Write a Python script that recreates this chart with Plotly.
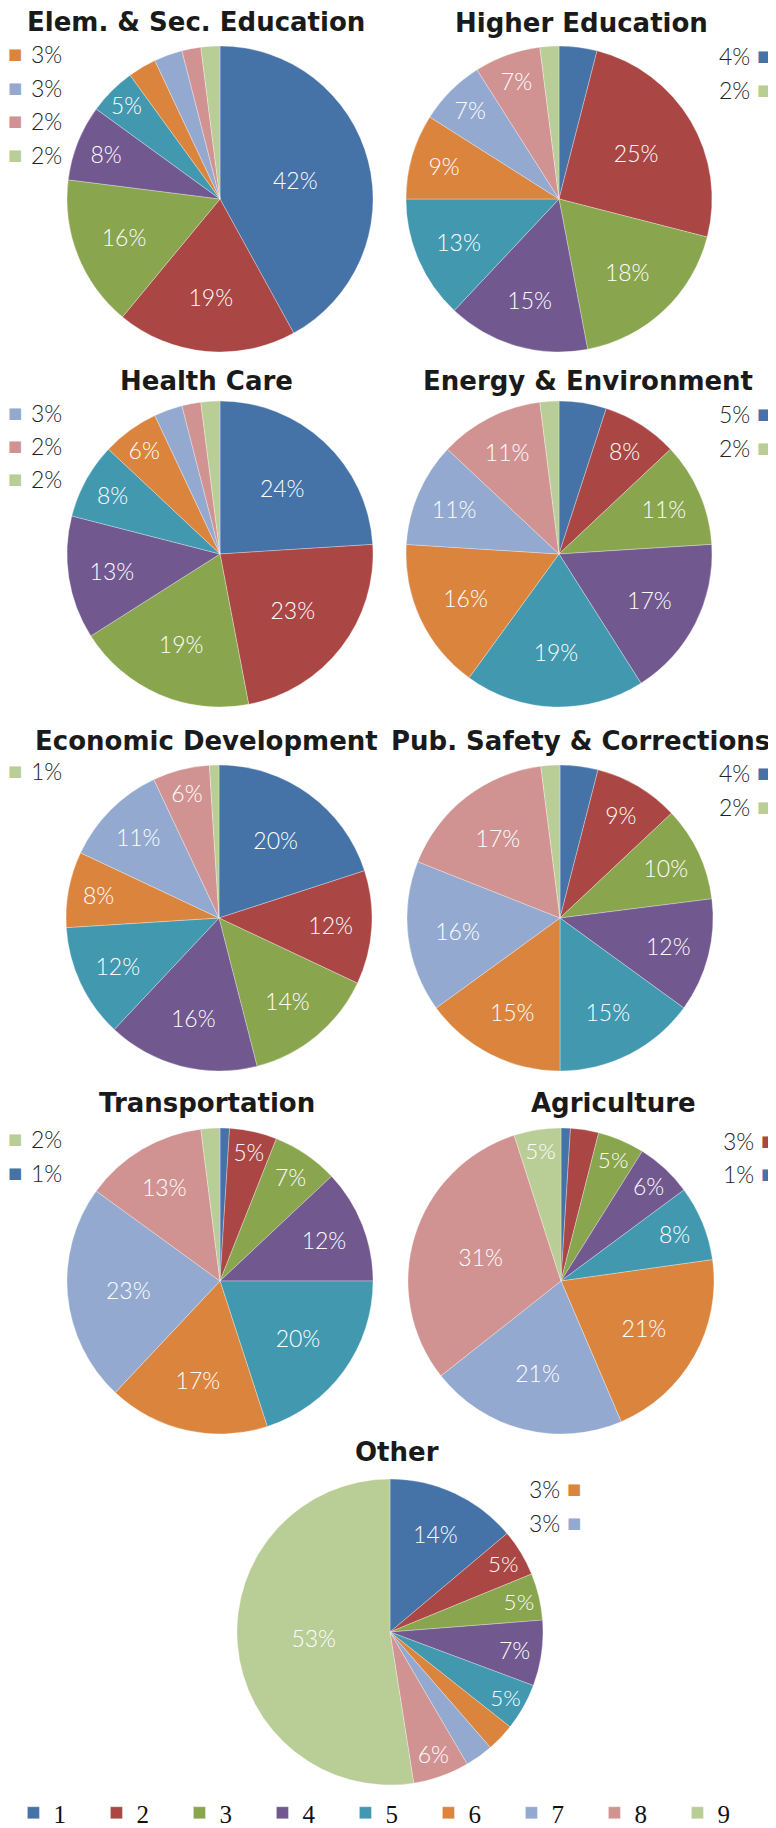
import plotly.graph_objects as go

W, H = 776, 1828

categories = ["1", "2", "3", "4", "5", "6", "7", "8", "9"]
colors = ["#4572A7", "#AA4643", "#89A54E", "#71588F", "#4198AF",
          "#DB843D", "#93A9CF", "#D19392", "#B9CD96"]

titles = ["Elem. & Sec. Education", "Higher Education", "Health Care",
          "Energy & Environment", "Economic Development",
          "Pub. Safety & Corrections", "Transportation", "Agriculture", "Other"]

elem_sec_edu = [42, 19, 16, 8, 5, 3, 3, 2, 2]
higher_edu = [4, 25, 18, 15, 13, 9, 7, 7, 2]
health_care = [24, 23, 19, 13, 8, 6, 3, 2, 2]
energy_env = [5, 8, 11, 17, 19, 16, 11, 11, 2]
econ_dev = [20, 12, 14, 16, 12, 8, 11, 6, 1]
pub_safety = [4, 9, 10, 12, 15, 15, 16, 17, 2]
transportation = [1, 5, 7, 12, 20, 17, 23, 13, 2]
agriculture = [1, 3, 5, 6, 8, 21, 21, 31, 5]
other = [14, 5, 5, 7, 5, 3, 3, 6, 53]

series = [elem_sec_edu, higher_edu, health_care, energy_env, econ_dev,
          pub_safety, transportation, agriculture, other]

# slices whose labels are shown beside the pie (index lists, in display order)
outside = [[5, 6, 7, 8], [0, 8], [6, 7, 8], [0, 8], [8], [0, 8], [8, 0], [1, 0], [5, 6]]
side = ["left", "right", "left", "right", "left", "right", "left", "right", "right"]

# layout (pixels)
R = 153
DX, DY = -6, -7
centers = [(218, 198), (557, 198), (218, 553), (557, 553), (217, 917),
           (558, 917), (218, 1280), (559, 1280), (388, 1631)]
title_pos = [(188, 20), (573, 21), (198, 379), (580, 379), (199, 739),
             (572, 739), (199, 1101), (605, 1101), (389, 1450)]
out_y = [[53, 87, 120, 154], [55, 89], [412, 445, 478], [413, 447], [770],
         [772, 806], [1138, 1172], [1140, 1173], [1488, 1522]]
right_text_x = {1: 744, 3: 744, 5: 744, 7: 748, 8: 554}


def px(x):
    return x / W


def py(y):
    return 1 - y / H


fig = go.Figure()
annotations = []
for i, vals in enumerate(series):
    cx, cy = centers[i][0] + DX, centers[i][1] + DY
    texts = [f"{v}%" for v in vals]
    tpos = ["none" if k in outside[i] else "inside" for k in range(len(vals))]
    fig.add_trace(go.Pie(
        labels=categories, values=vals, text=texts, textinfo="text",
        textposition=tpos, insidetextorientation="horizontal",
        sort=False, direction="clockwise", rotation=0,
        marker=dict(colors=colors, line=dict(color="rgba(255,255,255,0.6)", width=0.5)),
        insidetextfont=dict(family="Lato", size=23, color="white", weight=300),
        domain=dict(x=[px(cx - R), px(cx + R)], y=[py(cy + R), py(cy - R)]),
        showlegend=(i == 0), hoverinfo="label+percent", name=titles[i],
    ))
    tx, ty = title_pos[i]
    annotations.append(dict(
        text=f"<b>{titles[i]}</b>", x=px(tx), y=py(ty + DY + 1), xref="paper", yref="paper",
        showarrow=False, xanchor="center", yanchor="middle",
        font=dict(family="DejaVu Sans", size=26, color="#1a1a1a")))
    for k, yy in zip(outside[i], out_y[i]):
        yy = yy + DY
        if side[i] == "left":
            annotations.append(dict(
                text="■", x=px(7), y=py(yy), xref="paper", yref="paper",
                showarrow=False, xanchor="center", yanchor="middle",
                font=dict(family="DejaVu Sans", size=15, color=colors[k])))
            annotations.append(dict(
                text=texts[k], x=px(21), y=py(yy), xref="paper", yref="paper",
                showarrow=False, xanchor="left", yanchor="middle",
                font=dict(family="Lato", size=23, color="#222222", weight=300)))
        else:
            rx = right_text_x[i]
            annotations.append(dict(
                text=texts[k], x=px(rx), y=py(yy), xref="paper", yref="paper",
                showarrow=False, xanchor="right", yanchor="middle",
                font=dict(family="Lato", size=23, color="#222222", weight=300)))
            annotations.append(dict(
                text="■", x=px(rx + 12), y=py(yy), xref="paper", yref="paper",
                showarrow=False, xanchor="center", yanchor="middle",
                font=dict(family="DejaVu Sans", size=15, color=colors[k])))

fig.update_layout(
    width=W, height=H,
    margin=dict(l=0, r=0, t=0, b=0),
    paper_bgcolor="white", plot_bgcolor="white",
    annotations=annotations,
    legend=dict(orientation="h", x=0.007, y=0, xanchor="left", yanchor="bottom",
                entrywidth=38, entrywidthmode="pixels", tracegroupgap=0,
                font=dict(family="Liberation Serif", size=25, color="#111111"),
                itemclick=False, itemdoubleclick=False),
)

fig.write_html("out.html")
